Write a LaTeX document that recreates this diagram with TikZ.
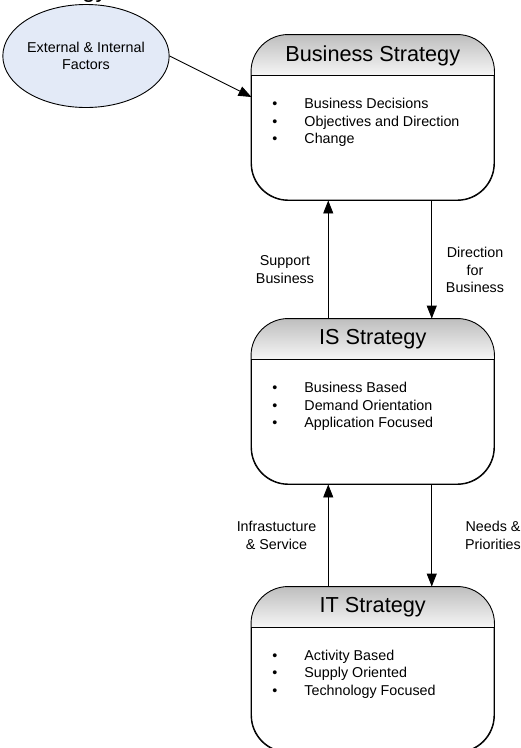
\documentclass[tikz,border=0pt]{standalone}
\usepackage{fontspec}
\setmainfont{Liberation Sans}
\usetikzlibrary{arrows.meta,shapes.geometric,calc}
\definecolor{hdtop}{RGB}{190,190,190}
\definecolor{hdbot}{RGB}{246,246,246}
\definecolor{extfill}{RGB}{227,234,247}
\newcommand{\mkheader}[1]{%
  \begin{scope}
    \clip[rounded corners=37pt] (#1.south west) rectangle (#1.north east);
    \shade[top color=hdtop,bottom color=hdbot] (#1.north west) rectangle ([yshift=-41pt]#1.north east);
  \end{scope}
  \draw ([yshift=-41pt]#1.north west) -- ([yshift=-41pt]#1.north east);
  \draw[rounded corners=37pt] (#1.south west) rectangle (#1.north east);}
\begin{document}
\begin{tikzpicture}[x=1pt,y=-1pt,line width=0.9pt,
  sbox/.style={draw,rounded corners=37pt,minimum width=242.5pt,minimum height=165pt,inner sep=0pt,fill=white},
  ttl/.style={font=\fontsize{21.7}{26}\selectfont,inner sep=0pt},
  lst/.style={font=\fontsize{14.3}{17.5}\selectfont,align=left,anchor=west,inner sep=0pt},
  lbl/.style={font=\fontsize{14.3}{17.3}\selectfont,align=center,inner sep=0pt},
  arr/.style={-{Triangle[length=13pt,width=10pt]}}]
\clip (0,0) rectangle (521,748);
\fill[white] (0,0) rectangle (521,748);

% cut-off title fragment
\node[font=\fontsize{24}{28}\selectfont,anchor=base east,inner sep=0pt] (maintitle) at (108,-2.5) {Strategy};

% external factors
\node[ellipse,draw,fill=extfill,minimum width=154pt,minimum height=103pt,inner sep=0pt,
      font=\fontsize{14.3}{17}\selectfont,align=center] (ext) at (86,56) {External \& Internal\\Factors};

% boxes
\node[sbox] (bs) at (372.75,117.5) {};
\mkheader{bs}
\node[sbox] (is) at (372.75,401.5) {};
\mkheader{is}
\node[sbox] (it) at (372.75,669.5) {};
\mkheader{it}

% titles
\node[ttl] (bst) at (372.75,55.5) {Business Strategy};
\node[ttl] (ist) at (372.75,339.5) {IS Strategy};
\node[ttl] (itt) at (372.75,607.5) {IT Strategy};

% lists
\node[lst] (bsl) at (271.8,122.5) {\makebox[32.2pt][l]{•}Business Decisions\\\makebox[32.2pt][l]{•}Objectives and Direction\\\makebox[32.2pt][l]{•}Change};
\node[lst] (isl) at (271.8,406.5) {\makebox[32.2pt][l]{•}Business Based\\\makebox[32.2pt][l]{•}Demand Orientation\\\makebox[32.2pt][l]{•}Application Focused};
\node[lst] (itl) at (271.8,674) {\makebox[32.2pt][l]{•}Activity Based\\\makebox[32.2pt][l]{•}Supply Oriented\\\makebox[32.2pt][l]{•}Technology Focused};

% connectors
\coordinate (bsin) at (251.5,97);
\draw[arr] (ext.east) -- (bsin);
\draw[arr] ([xshift=-44.5pt]is.north) -- ([xshift=-44.5pt]bs.south);
\draw[arr] ([xshift=59pt]bs.south) -- ([xshift=59pt]is.north);
\draw[arr] ([xshift=-44.5pt]it.north) -- ([xshift=-44.5pt]is.south);
\draw[arr] ([xshift=59pt]is.south) -- ([xshift=59pt]it.north);

% labels
\node[lbl] (l1) at (285,269.5) {Support\\Business};
\node[lbl] (l2) at (475,270) {Direction\\for\\Business};
\node[lbl] (l3) at (276.5,535.3) {Infrastucture\\\& Service};
\node[lbl] (l4) at (493,535.3) {Needs \&\\Priorities};
\end{tikzpicture}
\end{document}
